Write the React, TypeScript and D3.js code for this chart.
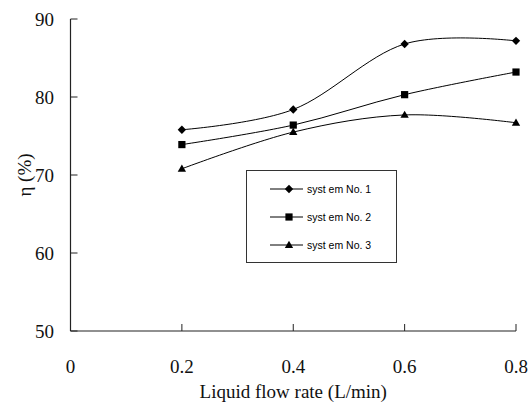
import * as React from "react"
import * as d3 from "d3"

const flowRates = [0.2, 0.4, 0.6, 0.8]
const system1 = [75.8, 78.4, 86.8, 87.2]
const system2 = [73.9, 76.4, 80.3, 83.2]
const system3 = [70.8, 75.5, 77.7, 76.7]
const seriesNames = ["syst em No. 1", "syst em No. 2", "syst em No. 3"]
const xTicks = [0, 0.2, 0.4, 0.6, 0.8]
const yTicks = [50, 60, 70, 80, 90]

type Shape = "diamond" | "square" | "triangle"

const marker = (shape: Shape, cx: number, cy: number, key: string | number) => {
    if (shape === "diamond") {
        const r = 4.2
        return <path key={key} d={`M${cx},${cy - r}L${cx + r},${cy}L${cx},${cy + r}L${cx - r},${cy}Z`} fill="#000" />
    }
    if (shape === "square") {
        return <rect key={key} x={cx - 3.6} y={cy - 3.6} width={7.2} height={7.2} fill="#000" />
    }
    const path = d3.symbol().type(d3.symbolTriangle).size(30)()
    return <path key={key} d={path ?? ""} transform={`translate(${cx},${cy + 0.5})`} fill="#000" />
}

const App = () => {
    const [w, h] = [529, 408]
    const m = { top: 19, left: 70.5, right: 13, bottom: 77 }

    const xScale = d3.scaleLinear().domain([0, 0.8]).range([m.left, w - m.right])
    const yScale = d3.scaleLinear().domain([50, 90]).range([h - m.bottom, m.top])

    const series: { name: string, values: number[], shape: Shape }[] = [
        { name: seriesNames[0], values: system1, shape: "diamond" },
        { name: seriesNames[1], values: system2, shape: "square" },
        { name: seriesNames[2], values: system3, shape: "triangle" },
    ]

    const line = d3.line<number>()
        .x((_, i) => xScale(flowRates[i]))
        .y(d => yScale(d))
        .curve(d3.curveCardinal.tension(0))

    const axisColor = "#222"
    const serif = "'Liberation Serif', 'Times New Roman', serif"
    const x0 = xScale(0)
    const y0 = yScale(50)

    const legend = { x: 246.5, y: 170.5, w: 150, h: 92, rowY: [189, 217, 245] }

    return (
        <svg width={w} height={h} style={{ position: "absolute", left: 0, top: 0, background: "#fff" }}>
            {/* axes */}
            <line x1={x0} x2={x0} y1={yScale(90)} y2={y0} stroke={axisColor} strokeWidth={1.2} />
            <line x1={x0} x2={xScale(0.8)} y1={y0} y2={y0} stroke={axisColor} strokeWidth={1.2} />
            {yTicks.map(t => (
                <g key={`y${t}`}>
                    <line x1={x0} x2={x0 + 7} y1={yScale(t)} y2={yScale(t)} stroke={axisColor} strokeWidth={1} />
                    <text x={54} y={yScale(t)} dy="0.35em" textAnchor="end" fontSize={19} fontFamily={serif} fill="#111">
                        {t}
                    </text>
                </g>
            ))}
            {xTicks.map(t => (
                <g key={`x${t}`}>
                    {t > 0 && <line x1={xScale(t)} x2={xScale(t)} y1={y0} y2={y0 - 7} stroke={axisColor} strokeWidth={1} />}
                    <text x={xScale(t)} y={373} textAnchor="middle" fontSize={19} fontFamily={serif} fill="#111">
                        {t}
                    </text>
                </g>
            ))}
            <text x={(xScale(0) + xScale(0.8)) / 2} y={398} textAnchor="middle" fontSize={19} fontFamily={serif} fill="#111">
                Liquid flow rate (L/min)
            </text>
            <text transform={`translate(31,${(yScale(50) + yScale(90)) / 2}) rotate(-90)`} textAnchor="middle" fontSize={19} fontFamily={serif} fill="#111">
                η (%)
            </text>

            {/* series */}
            {series.map(s => (
                <g key={s.name}>
                    <path d={line(s.values) ?? ""} fill="none" stroke="#000" strokeWidth={1} />
                    {s.values.map((v, i) => marker(s.shape, xScale(flowRates[i]), yScale(v), i))}
                </g>
            ))}

            {/* legend */}
            <rect x={legend.x} y={legend.y} width={legend.w} height={legend.h} fill="#fff" stroke="#333" strokeWidth={1} />
            {series.map((s, i) => (
                <g key={`lg${i}`}>
                    <line x1={270} x2={303} y1={legend.rowY[i]} y2={legend.rowY[i]} stroke="#000" strokeWidth={1} />
                    {marker(s.shape, 289, legend.rowY[i], "m")}
                    <text x={307} y={legend.rowY[i]} dy="0.35em" fontSize={10.5} fontFamily="'Liberation Sans', Arial, sans-serif" fill="#000">
                        {s.name}
                    </text>
                </g>
            ))}
        </svg>
    )
}

export default App
